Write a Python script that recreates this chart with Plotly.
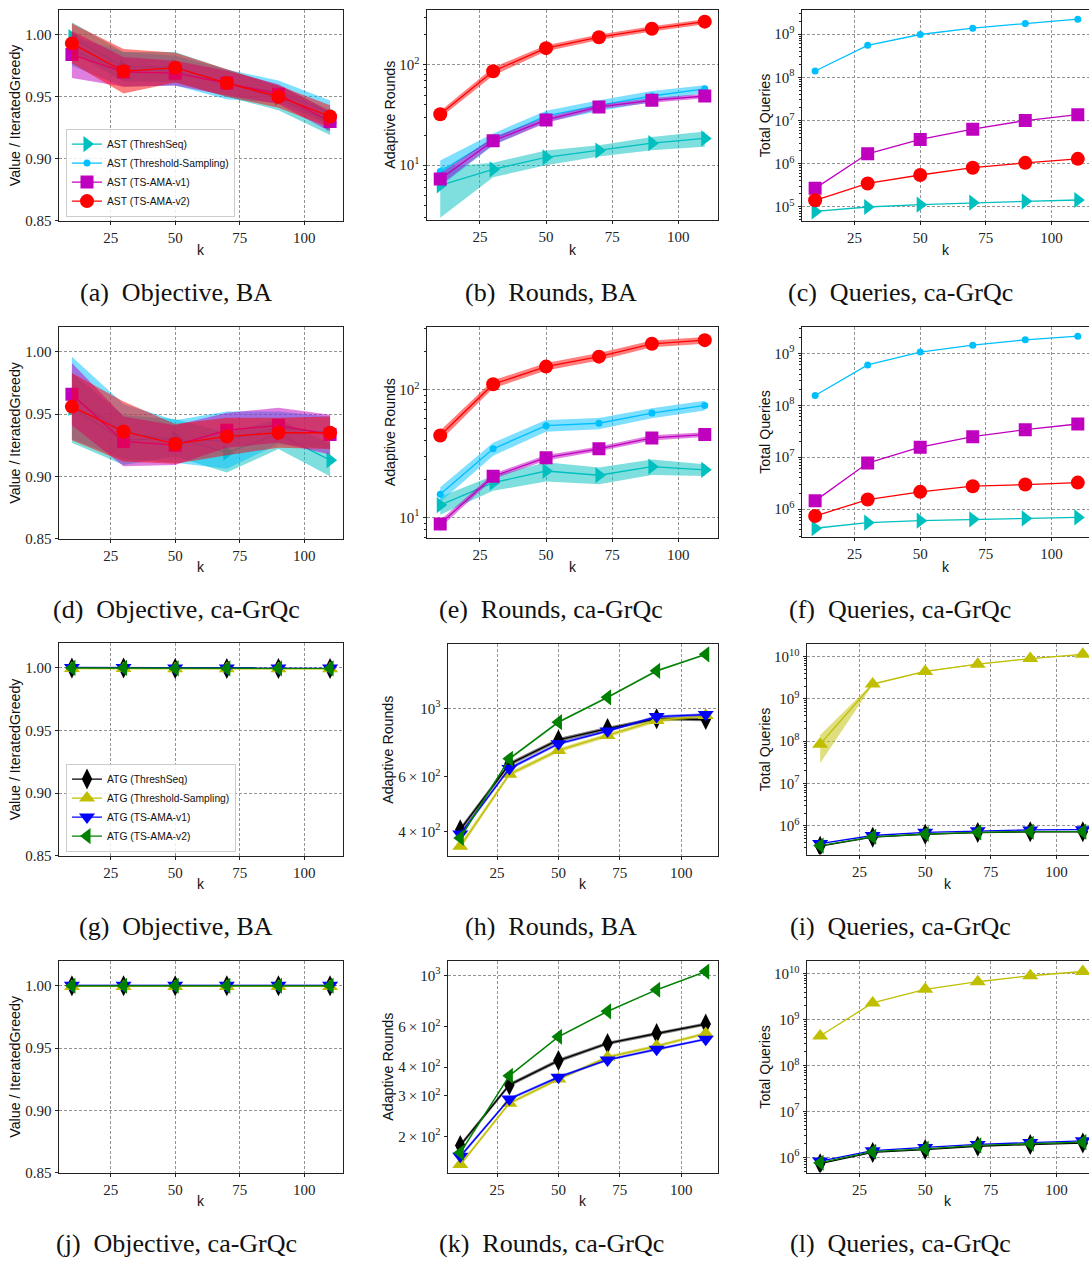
import plotly.graph_objects as go

W, H = 1089, 1266
K = [10, 30, 50, 70, 90, 110]

# ---------------- (a) Objective, BA  (AST) ----------------
obj_ba_ast_threshseq = [0.998, 0.974, 0.974, 0.961, 0.949, 0.929]
obj_ba_ast_threshseq_sd = [0.012, 0.012, 0.012, 0.011, 0.010, 0.010]
obj_ba_ast_tsampling = [0.987, 0.972, 0.971, 0.960, 0.954, 0.937]
obj_ba_ast_tsampling_sd = [0.012, 0.014, 0.012, 0.012, 0.009, 0.010]
obj_ba_ast_v1 = [0.984, 0.970, 0.969, 0.961, 0.952, 0.930]
obj_ba_ast_v1_sd = [0.019, 0.012, 0.010, 0.010, 0.008, 0.008]
obj_ba_ast_v2 = [0.993, 0.9705, 0.9734, 0.961, 0.950, 0.934]
obj_ba_ast_v2_sd = [0.016, 0.018, 0.012, 0.011, 0.009, 0.009]

# ---------------- (b) Rounds, BA (AST) ----------------
rnd_ba_ast_threshseq = [6.3, 9.1, 12.0, 14.0, 16.6, 18.5]
rnd_ba_ast_threshseq_sd = [3.3, 1.5, 2.0, 1.8, 2.5, 3.2]
rnd_ba_ast_tsampling = [8.65, 18.2, 31.0, 39.5, 49.0, 57.8]
rnd_ba_ast_tsampling_sd = [2.5, 2.5, 4.0, 5.0, 6.0, 5.0]
rnd_ba_ast_v1 = [7.3, 17.5, 28.3, 38.1, 44.4, 49.0]
rnd_ba_ast_v1_sd = [1.0, 1.5, 2.0, 2.0, 2.5, 2.5]
rnd_ba_ast_v2 = [32.2, 86.5, 147.0, 189.0, 229.0, 270.0]
rnd_ba_ast_v2_sd = [2.5, 8.0, 10.0, 12.0, 14.0, 15.0]

# ---------------- (c) Queries (AST) ----------------
qry_ba_ast_threshseq = [7.9e4, 1.0e5, 1.13e5, 1.26e5, 1.35e5, 1.45e5]
qry_ba_ast_tsampling = [1.4e8, 5.5e8, 9.8e8, 1.37e9, 1.76e9, 2.22e9]
qry_ba_ast_v1 = [2.7e5, 1.7e6, 3.65e6, 6.3e6, 1.0e7, 1.37e7]
qry_ba_ast_v2 = [1.43e5, 3.5e5, 5.5e5, 8.1e5, 1.05e6, 1.3e6]

# ---------------- (d) Objective, ca-GrQc (AST) ----------------
obj_gr_ast_threshseq = [0.955, 0.929, 0.931, 0.919, 0.934, 0.913]
obj_gr_ast_threshseq_sd = [0.028, 0.020, 0.015, 0.016, 0.012, 0.013]
obj_gr_ast_tsampling = [0.963, 0.936, 0.928, 0.929, 0.939, 0.935]
obj_gr_ast_tsampling_sd = [0.033, 0.022, 0.017, 0.023, 0.013, 0.013]
obj_gr_ast_v1 = [0.966, 0.928, 0.925, 0.937, 0.941, 0.9335]
obj_gr_ast_v1_sd = [0.025, 0.020, 0.016, 0.014, 0.014, 0.016]
obj_gr_ast_v2 = [0.956, 0.936, 0.926, 0.932, 0.935, 0.935]
obj_gr_ast_v2_sd = [0.027, 0.024, 0.016, 0.015, 0.012, 0.013]

# ---------------- (e) Rounds, ca-GrQc (AST) ----------------
rnd_gr_ast_threshseq = [12.5, 18.7, 23.1, 21.4, 25.0, 23.6]
rnd_gr_ast_threshseq_sd = [2.0, 2.5, 4.0, 3.2, 3.5, 2.5]
rnd_gr_ast_tsampling = [15.2, 34.5, 52.4, 54.7, 65.8, 75.5]
rnd_gr_ast_tsampling_sd = [2.0, 4.0, 5.5, 5.5, 6.0, 6.5]
rnd_gr_ast_v1 = [8.9, 21.0, 29.4, 34.5, 42.0, 44.6]
rnd_gr_ast_v1_sd = [0.6, 1.0, 1.5, 1.5, 2.0, 2.0]
rnd_gr_ast_v2 = [43.9, 110.7, 152.0, 182.0, 229.6, 245.0]
rnd_gr_ast_v2_sd = [4.0, 8.0, 10.0, 12.0, 14.0, 15.0]

# ---------------- (f) Queries, ca-GrQc (AST) ----------------
qry_gr_ast_threshseq = [4.27e5, 5.47e5, 5.98e5, 6.34e5, 6.6e5, 6.9e5]
qry_gr_ast_tsampling = [1.55e8, 6.0e8, 1.06e9, 1.44e9, 1.83e9, 2.15e9]
qry_gr_ast_v1 = [1.44e6, 7.7e6, 1.56e7, 2.49e7, 3.4e7, 4.36e7]
qry_gr_ast_v2 = [7.35e5, 1.53e6, 2.15e6, 2.76e6, 2.97e6, 3.24e6]

# ---------------- (g) Objective, BA (ATG) ----------------
obj_ba_atg_threshseq = [1.0, 1.0, 0.9996, 0.9996, 0.9996, 0.9996]
obj_ba_atg_tsampling = [0.9995, 0.9995, 0.9993, 0.9993, 0.9993, 0.9993]
obj_ba_atg_v1 = [1.0004, 1.0004, 1.0, 1.0, 1.0, 1.0]
obj_ba_atg_v2 = [1.0, 1.0, 0.9996, 0.9996, 0.9996, 0.9996]
obj_atg_sd = [0.0004, 0.0004, 0.0004, 0.0004, 0.0004, 0.0004]

# ---------------- (h) Rounds, BA (ATG) ----------------
rnd_ba_atg_threshseq = [405, 660, 790, 860, 925, 920]
rnd_ba_atg_threshseq_sd = [8, 10, 12, 12, 12, 12]
rnd_ba_atg_tsampling = [358, 612, 731, 817, 913, 947]
rnd_ba_atg_tsampling_sd = [8, 10, 12, 12, 14, 14]
rnd_ba_atg_v1 = [392, 639, 768, 844, 940, 954]
rnd_ba_atg_v1_sd = [6, 8, 8, 8, 10, 10]
rnd_ba_atg_v2 = [381, 687, 902, 1085, 1321, 1494]
rnd_ba_atg_v2_sd = [5, 6, 8, 8, 10, 10]

# ---------------- (i) Queries (ATG) ----------------
qry_ba_atg_threshseq = [3.3e5, 5.4e5, 6.3e5, 6.9e5, 7.2e5, 7.2e5]
qry_ba_atg_tsampling = [8.5e7, 2.24e9, 4.45e9, 6.6e9, 9.0e9, 1.13e10]
qry_ba_atg_tsampling_sd = [5.5e7, 1.0e8, 1.5e8, 1.5e8, 2.0e8, 2.0e8]
qry_ba_atg_v1 = [3.8e5, 5.9e5, 7.0e5, 7.6e5, 8.0e5, 8.1e5]
qry_ba_atg_v2 = [3.4e5, 5.5e5, 6.4e5, 7.0e5, 7.3e5, 7.3e5]

# ---------------- (j) Objective, ca-GrQc (ATG) ----------------
obj_gr_atg_threshseq = [1.0, 1.0, 1.0, 1.0, 1.0, 1.0]
obj_gr_atg_tsampling = [0.9995, 0.9995, 0.9995, 0.9995, 0.9995, 0.9995]
obj_gr_atg_v1 = [1.0004, 1.0004, 1.0004, 1.0004, 1.0004, 1.0004]
obj_gr_atg_v2 = [1.0, 1.0, 1.0, 1.0, 1.0, 1.0]

# ---------------- (k) Rounds, ca-GrQc (ATG) ----------------
rnd_gr_atg_threshseq = [183, 335, 427, 507, 560, 615]
rnd_gr_atg_threshseq_sd = [4, 6, 8, 8, 9, 10]
rnd_gr_atg_tsampling = [151, 279, 355, 442, 494, 560]
rnd_gr_atg_tsampling_sd = [3, 5, 6, 7, 8, 8]
rnd_gr_atg_v1 = [164, 291, 362, 430, 478, 529]
rnd_gr_atg_v1_sd = [3, 4, 5, 5, 6, 6]
rnd_gr_atg_v2 = [170, 367, 542, 699, 867, 1040]
rnd_gr_atg_v2_sd = [3, 4, 5, 6, 7, 8]

# ---------------- (l) Queries, ca-GrQc (ATG) ----------------
qry_gr_atg_threshseq = [7.3e5, 1.28e6, 1.48e6, 1.75e6, 1.9e6, 2.05e6]
qry_gr_atg_tsampling = [4.4e8, 2.32e9, 4.57e9, 6.7e9, 9.05e9, 1.12e10]
qry_gr_atg_v1 = [8.3e5, 1.4e6, 1.65e6, 1.92e6, 2.1e6, 2.3e6]
qry_gr_atg_v2 = [7.66e5, 1.33e6, 1.54e6, 1.82e6, 1.98e6, 2.15e6]

AST_NAMES = ["AST (ThreshSeq)", "AST (Threshold-Sampling)", "AST (TS-AMA-v1)", "AST (TS-AMA-v2)"]
ATG_NAMES = ["ATG (ThreshSeq)", "ATG (Threshold-Sampling)", "ATG (TS-AMA-v1)", "ATG (TS-AMA-v2)"]
CAPTIONS = ["(a)  Objective, BA", "(b)  Rounds, BA", "(c)  Queries, ca-GrQc",
            "(d)  Objective, ca-GrQc", "(e)  Rounds, ca-GrQc", "(f)  Queries, ca-GrQc",
            "(g)  Objective, BA", "(h)  Rounds, BA", "(i)  Queries, ca-GrQc",
            "(j)  Objective, ca-GrQc", "(k)  Rounds, ca-GrQc", "(l)  Queries, ca-GrQc"]

# styles
AST_STYLE = [
    dict(color=(0, 191, 191), symbol="triangle-right", size=14),
    dict(color=(0, 191, 255), symbol="circle", size=7),
    dict(color=(191, 0, 191), symbol="square", size=13),
    dict(color=(255, 0, 0), symbol="circle", size=14),
]
ATG_STYLE = [
    dict(color=(0, 0, 0), symbol="diamond-tall", size=15),
    dict(color=(191, 191, 0), symbol="triangle-up", size=14),
    dict(color=(0, 0, 255), symbol="triangle-down", size=14),
    dict(color=(0, 128, 0), symbol="triangle-left", size=14),
]

# panel geometry in pixels: (left, right, top, bottom)
GEOM = [
    (59, 343, 10, 222), (427, 718, 10, 221), (802, 1089, 10, 222),
    (59, 343, 329, 542), (427, 718, 329, 541), (802, 1089, 329, 540),
    (59, 343, 647, 861), (448, 718, 648, 861), (807, 1089, 648, 860),
    (59, 343, 967, 1180), (448, 718, 967, 1180), (807, 1089, 967, 1180),
]
YTITLE_X = [15, 390, 765, 15, 390, 765, 15, 388, 765, 15, 388, 765]
CAP_X = [176, 551, 900]
CAP_Y = [294, 613, 932, 1251]
KTITLE_Y = [252, 571, 890, 1209]
TS = "\u2009"  # thin space


def sup(n):
    return "10<sup>%d</sup>" % n


def msup(m, n):
    return "%d%s×%s10<sup>%d</sup>" % (m, TS, TS, n)


def minor_vals(lo, hi):
    out = []
    for e in range(lo, hi + 1):
        for m in range(2, 10):
            out.append(m * 10 ** e)
    return out


LIN_Y = dict(type="linear", range=[0.85, 1.02], tickvals=[0.85, 0.90, 0.95, 1.00],
             ticktext=["0.85", "0.90", "0.95", "1.00"])

YAX = [
    LIN_Y,
    dict(type="log", range=[0.458, 2.548], tickvals=[10, 100], ticktext=[sup(1), sup(2)], minor=(0, 2)),
    dict(type="log", range=[4.685, 9.56], tickvals=[1e5, 1e6, 1e7, 1e8, 1e9],
         ticktext=[sup(5), sup(6), sup(7), sup(8), sup(9)], minor=(4, 9)),
    LIN_Y,
    dict(type="log", range=[0.842, 2.493], tickvals=[10, 100], ticktext=[sup(1), sup(2)], minor=(0, 2)),
    dict(type="log", range=[5.47, 9.511], tickvals=[1e6, 1e7, 1e8, 1e9],
         ticktext=[sup(6), sup(7), sup(8), sup(9)], minor=(5, 9)),
    LIN_Y,
    dict(type="log", range=[2.524, 3.208], tickvals=[400, 600, 1000],
         ticktext=[msup(4, 2), msup(6, 2), sup(3)], grid1000=True),
    dict(type="log", range=[5.32, 10.3], tickvals=[1e6, 1e7, 1e8, 1e9, 1e10],
         ticktext=[sup(6), sup(7), sup(8), sup(9), sup(10)], minor=(5, 10)),
    LIN_Y,
    dict(type="log", range=[2.1445, 3.0634], tickvals=[200, 300, 400, 600, 1000],
         ticktext=[msup(2, 2), msup(3, 2), msup(4, 2), msup(6, 2), sup(3)], grid1000=True),
    dict(type="log", range=[5.67, 10.28], tickvals=[1e6, 1e7, 1e8, 1e9, 1e10],
         ticktext=[sup(6), sup(7), sup(8), sup(9), sup(10)], minor=(5, 10)),
]
YTITLES = ["Value / IteratedGreedy", "Adaptive Rounds", "Total Queries"] * 4

# series per panel: (values, sd or None)
PANELS = [
    ("ast", [(obj_ba_ast_threshseq, obj_ba_ast_threshseq_sd), (obj_ba_ast_tsampling, obj_ba_ast_tsampling_sd),
             (obj_ba_ast_v1, obj_ba_ast_v1_sd), (obj_ba_ast_v2, obj_ba_ast_v2_sd)]),
    ("ast", [(rnd_ba_ast_threshseq, rnd_ba_ast_threshseq_sd), (rnd_ba_ast_tsampling, rnd_ba_ast_tsampling_sd),
             (rnd_ba_ast_v1, rnd_ba_ast_v1_sd), (rnd_ba_ast_v2, rnd_ba_ast_v2_sd)]),
    ("ast", [(qry_ba_ast_threshseq, None), (qry_ba_ast_tsampling, None),
             (qry_ba_ast_v1, None), (qry_ba_ast_v2, None)]),
    ("ast", [(obj_gr_ast_threshseq, obj_gr_ast_threshseq_sd), (obj_gr_ast_tsampling, obj_gr_ast_tsampling_sd),
             (obj_gr_ast_v1, obj_gr_ast_v1_sd), (obj_gr_ast_v2, obj_gr_ast_v2_sd)]),
    ("ast", [(rnd_gr_ast_threshseq, rnd_gr_ast_threshseq_sd), (rnd_gr_ast_tsampling, rnd_gr_ast_tsampling_sd),
             (rnd_gr_ast_v1, rnd_gr_ast_v1_sd), (rnd_gr_ast_v2, rnd_gr_ast_v2_sd)]),
    ("ast", [(qry_gr_ast_threshseq, None), (qry_gr_ast_tsampling, None),
             (qry_gr_ast_v1, None), (qry_gr_ast_v2, None)]),
    ("atg", [(obj_ba_atg_threshseq, obj_atg_sd), (obj_ba_atg_tsampling, obj_atg_sd),
             (obj_ba_atg_v1, obj_atg_sd), (obj_ba_atg_v2, obj_atg_sd)]),
    ("atg", [(rnd_ba_atg_threshseq, rnd_ba_atg_threshseq_sd), (rnd_ba_atg_tsampling, rnd_ba_atg_tsampling_sd),
             (rnd_ba_atg_v1, rnd_ba_atg_v1_sd), (rnd_ba_atg_v2, rnd_ba_atg_v2_sd)]),
    ("atg", [(qry_ba_atg_threshseq, None), (qry_ba_atg_tsampling, qry_ba_atg_tsampling_sd),
             (qry_ba_atg_v1, None), (qry_ba_atg_v2, None)]),
    ("atg", [(obj_gr_atg_threshseq, obj_atg_sd), (obj_gr_atg_tsampling, obj_atg_sd),
             (obj_gr_atg_v1, obj_atg_sd), (obj_gr_atg_v2, obj_atg_sd)]),
    ("atg", [(rnd_gr_atg_threshseq, rnd_gr_atg_threshseq_sd), (rnd_gr_atg_tsampling, rnd_gr_atg_tsampling_sd),
             (rnd_gr_atg_v1, rnd_gr_atg_v1_sd), (rnd_gr_atg_v2, rnd_gr_atg_v2_sd)]),
    ("atg", [(qry_gr_atg_threshseq, None), (qry_gr_atg_tsampling, None),
             (qry_gr_atg_v1, None), (qry_gr_atg_v2, None)]),
]

fig = go.Figure()
TICKFONT = dict(family="Liberation Serif", size=15, color="#222222")
SANS = "Liberation Sans"
GRID = dict(showgrid=True, gridcolor="#949494", gridwidth=0.8, griddash="3px,2px")
layout = {}
annotations = []

for i, (fam, series) in enumerate(PANELS):
    n = i + 1
    xa = "x" if n == 1 else "x%d" % n
    ya = "y" if n == 1 else "y%d" % n
    l, r, t, b = GEOM[i]
    col = i % 3
    row = i // 3
    names = AST_NAMES if fam == "ast" else ATG_NAMES
    styles = AST_STYLE if fam == "ast" else ATG_STYLE
    legend_id = "legend" if fam == "ast" else "legend2"
    show_leg = (col == 0 and row in (0, 2))

    for (vals, sd), name, st in zip(series, names, styles):
        rgb = "rgb(%d,%d,%d)" % st["color"]
        rgba = "rgba(%d,%d,%d,0.5)" % st["color"]
        if sd is not None:
            hi = [v + s for v, s in zip(vals, sd)]
            lo = [v - s for v, s in zip(vals, sd)]
            fig.add_trace(go.Scatter(
                x=K + K[::-1], y=hi + lo[::-1], fill="toself", fillcolor=rgba,
                mode="lines", line=dict(width=0), hoverinfo="skip", showlegend=False,
                xaxis=xa, yaxis=ya))
        fig.add_trace(go.Scatter(
            x=K, y=vals, mode="lines+markers", name=name,
            line=dict(color=rgb, width=1.3),
            marker=dict(color=rgb, symbol=st["symbol"], size=st["size"], line=dict(width=0)),
            showlegend=show_leg, legend=legend_id, xaxis=xa, yaxis=ya))

    xrange = [5, 115] if col < 2 else [5, 5 + (r - l) / ((1053.5 - 856.5) / 75.0)]
    xkey = "xaxis" if n == 1 else "xaxis%d" % n
    ykey = "yaxis" if n == 1 else "yaxis%d" % n
    layout[xkey] = dict(
        domain=[l / W, r / W], anchor=ya, range=xrange, tickvals=[25, 50, 75, 100],
        ticks="outside", ticklen=3.5, tickcolor="#222", tickfont=TICKFONT,
        showline=True, linecolor="#222", linewidth=1, mirror=True, zeroline=False, **GRID)

    yc = dict(YAX[i])
    mn = yc.pop("minor", None)
    g1000 = yc.pop("grid1000", False)
    ydict = dict(
        domain=[1 - b / H, 1 - t / H], anchor=xa,
        ticks="outside", ticklen=3.5, tickcolor="#222", tickfont=TICKFONT,
        showline=True, linecolor="#222", linewidth=1, mirror=(col < 2), zeroline=False, **yc)
    if g1000:
        ydict.update(showgrid=False,
                     minor=dict(tickvals=[1000], showgrid=True, ticks="", gridcolor="#949494",
                                gridwidth=0.8, griddash="3px,2px"))
    else:
        ydict.update(GRID)
        if mn is not None:
            ydict["minor"] = dict(tickvals=minor_vals(mn[0], mn[1]), ticks="outside", ticklen=2,
                                  tickcolor="#222", showgrid=False)
    layout[ykey] = ydict

    # axis titles
    annotations.append(dict(text=YTITLES[i], x=YTITLE_X[i] / W, y=1 - ((t + b) / 2) / H,
                            xref="paper", yref="paper", textangle=-90, showarrow=False,
                            xanchor="center", yanchor="middle",
                            font=dict(family=SANS, size=14.2, color="#111")))
    annotations.append(dict(text="k", x=((l + r) / 2) / W, y=1 - KTITLE_Y[row] / H,
                            xref="paper", yref="paper", showarrow=False,
                            xanchor="center", yanchor="middle",
                            font=dict(family=SANS, size=14, color="#111")))
    annotations.append(dict(text=CAPTIONS[i], x=CAP_X[col] / W, y=1 - CAP_Y[row] / H,
                            xref="paper", yref="paper", showarrow=False,
                            xanchor="center", yanchor="middle",
                            font=dict(family="Liberation Serif", size=26, color="#111")))

LEGSTYLE = dict(xanchor="left", yanchor="bottom", bgcolor="rgba(255,255,255,0.85)",
                bordercolor="#cccccc", borderwidth=1,
                font=dict(family=SANS, size=10.3, color="#111"), itemwidth=30, tracegroupgap=0)

fig.update_layout(
    width=W, height=H, margin=dict(l=0, r=0, t=0, b=0),
    paper_bgcolor="white", plot_bgcolor="white",
    annotations=annotations,
    legend=dict(x=66 / W, y=1 - 218 / H, **LEGSTYLE),
    legend2=dict(x=66 / W, y=1 - 857 / H, **LEGSTYLE),
    **layout)

fig.write_html("out.html")
